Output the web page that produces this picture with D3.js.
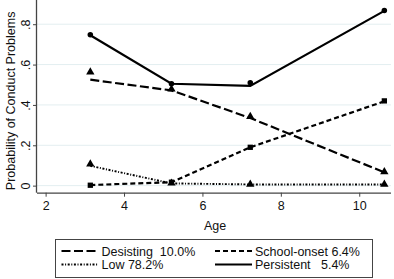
<!DOCTYPE html>
<html><head><meta charset="utf-8">
<script src="https://cdn.jsdelivr.net/npm/d3@7"></script>
<style>body{margin:0;background:#fff}svg{display:block;font-family:"Liberation Sans",Arial,sans-serif}</style>
</head><body><svg id="c" width="394" height="279"></svg>
<script>
const ages = [3.14, 5.21, 7.22, 10.64];
const seriesNames = ["Desisting", "School-onset", "Low", "Persistent"];
const seriesShares = ["10.0%", "6.4%", "78.2%", "5.4%"];
const desistingFit = [0.525, 0.472, 0.335, 0.066];
const schoolFit = [0.003, 0.017, 0.19, 0.418];
const lowFit = [0.098, 0.011, 0.006, 0.006];
const persistentFit = [0.745, 0.505, 0.494, 0.866];
const desistingObs = [0.563, 0.478, 0.342, 0.068];
const schoolObs = [0.002, 0.017, 0.19, 0.42];
const lowObs = [0.107, 0.012, 0.007, 0.007];
const persistentObs = [0.748, 0.505, 0.51, 0.868];
const xTicks = [2, 4, 6, 8, 10];
const yTicks = [0, 0.2, 0.4, 0.6, 0.8];
const yTickLabels = ["0", ".2", ".4", ".6", ".8"];

const svg = d3.select("#c");
const L = 37, R = 391, T = 0, B = 192.7;
const x = d3.scaleLinear().domain([1.78, 10.81]).range([L, R]);
const y = d3.scaleLinear().domain([-0.035, 0.92]).range([B, T]);

// gridlines
svg.append("g").selectAll("line").data(yTicks).join("line")
  .attr("x1", L).attr("x2", R).attr("y1", d => y(d)).attr("y2", d => y(d))
  .attr("stroke", "#e3eef0").attr("stroke-width", 1);

// axes
const gx = svg.append("g").attr("transform", `translate(0,${B})`)
  .call(d3.axisBottom(x).tickValues(xTicks).tickSize(4).tickPadding(4).tickFormat(d3.format("d")));
gx.select(".domain").attr("d", `M${L},0.5H${R}`);
const gy = svg.append("g").attr("transform", `translate(${L},0)`)
  .call(d3.axisLeft(y).tickValues(yTicks).tickSize(4).tickFormat((d, i) => yTickLabels[i]));
gy.select(".domain").attr("d", `M-0.5,${T}V${B}`);
[gx, gy].forEach(g => {
  g.selectAll(".domain").attr("stroke", "#444").attr("stroke-width", 1.3);
  g.selectAll(".tick line").attr("stroke", "#444");
  g.selectAll("text").attr("font-size", 12.5).attr("fill", "#111").attr("font-family", "Liberation Sans, Arial, sans-serif");
});
gy.selectAll(".tick text")
  .attr("text-anchor", "middle").attr("x", null).attr("dy", null)
  .attr("transform", "translate(-7,0) rotate(-90)");

// axis titles
svg.append("text").attr("x", 215).attr("y", 230).attr("text-anchor", "middle")
  .attr("font-size", 12.5).attr("fill", "#111").text("Age");
svg.append("text").attr("transform", `translate(11.5,${y(0.42)}) rotate(-90)`)
  .attr("text-anchor", "middle").attr("dominant-baseline", "middle")
  .attr("font-size", 12.5).attr("fill", "#111").text("Probability of Conduct Problems");

const styles = [
  {fit: desistingFit, obs: desistingObs, dash: "9,3.5", w: 2.2, mk: "tri"},
  {fit: schoolFit, obs: schoolObs, dash: "5,3", w: 2.2, mk: "sq"},
  {fit: lowFit, obs: lowObs, dash: "2,1.6,1,1.6", w: 1.9, mk: "tri"},
  {fit: persistentFit, obs: persistentObs, dash: null, w: 2.2, mk: "circ"}
];
const line = d3.line().x(d => x(d[0])).y(d => y(d[1]));
styles.forEach(s => {
  svg.append("path").datum(ages.map((a, i) => [a, s.fit[i]]))
    .attr("d", line).attr("fill", "none").attr("stroke", "#000")
    .attr("stroke-width", s.w).attr("stroke-dasharray", s.dash);
});
const sym = {tri: d3.symbolTriangle, sq: d3.symbolSquare, circ: d3.symbolCircle};
const size = {tri: 30, sq: 28, circ: 24};
styles.forEach(s => {
  svg.append("g").selectAll("path").data(ages.map((a, i) => [a, s.obs[i]])).join("path")
    .attr("transform", d => `translate(${x(d[0])},${y(d[1])})`)
    .attr("d", d3.symbol(sym[s.mk], size[s.mk])).attr("fill", "#000");
});

// legend
const lg = svg.append("g");
lg.append("rect").attr("x", 55.5).attr("y", 239.5).attr("width", 317).attr("height", 38)
  .attr("fill", "#fff").attr("stroke", "#444").attr("stroke-width", 1);
const pos = [[61.5, 251], [215, 251], [61.5, 264.5], [215, 264.5]];
const gaps = ["  ", " ", " ", "   "];
styles.forEach((s, i) => {
  const [lx, ly] = pos[i];
  lg.append("line").attr("x1", lx).attr("x2", lx + 37).attr("y1", ly).attr("y2", ly)
    .attr("stroke", "#000").attr("stroke-width", s.w).attr("stroke-dasharray", s.dash);
  lg.append("text").attr("x", lx + 40).attr("y", ly).attr("dy", "0.36em")
    .attr("font-size", 12.5).attr("fill", "#111").attr("xml:space", "preserve")
    .text(seriesNames[i] + gaps[i] + seriesShares[i]);
});
</script></body></html>
